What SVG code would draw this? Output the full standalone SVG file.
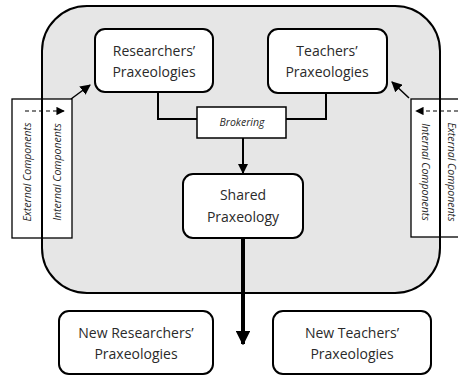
<svg xmlns="http://www.w3.org/2000/svg" width="458" height="376" viewBox="0 0 458 376">
<style>
.node{fill:#fff;stroke:#000;stroke-width:2}
.panel{fill:#fff;stroke:#000;stroke-width:1.3}
.t{font-family:"Open Sans","Noto Sans",sans-serif;font-size:14px;fill:#2a2a2a;text-anchor:middle}
.s{font-family:"Open Sans","Noto Sans",sans-serif;font-size:10.5px;font-style:italic;fill:#2a2a2a;text-anchor:middle}
.ln{fill:none;stroke:#000;stroke-width:2}
</style>
<defs>
<marker id="ah" viewBox="0 0 10 10" refX="9" refY="5" markerWidth="5" markerHeight="5" orient="auto" markerUnits="strokeWidth">
<path d="M0,0L10,5L0,10z" fill="#000"/>
</marker>
<marker id="ahs" viewBox="0 0 10 10" refX="9" refY="5" markerWidth="7" markerHeight="7" orient="auto" markerUnits="strokeWidth">
<path d="M0,0L10,5L0,10z" fill="#000"/>
</marker>
<marker id="ahb" viewBox="0 0 10 10" refX="9" refY="5" markerWidth="3.6" markerHeight="3.6" orient="auto" markerUnits="strokeWidth">
<path d="M0,0L10,5L0,10z" fill="#000"/>
</marker>
</defs>
<g id="container-bg"><rect x="42" y="6" width="398" height="287" rx="45" ry="45" fill="#e6e6e6"/></g>
<g id="left-panel">
<rect class="panel" x="12" y="99" width="30" height="139"/>
<rect class="panel" x="42" y="99" width="30" height="139"/>
<text class="s" transform="translate(31,172) rotate(-90)">External Components</text>
<text class="s" transform="translate(61,172) rotate(-90)">Internal Components</text>
</g>
<g id="right-panel">
<rect class="panel" x="411" y="99" width="29" height="138"/>
<rect class="panel" x="440" y="99" width="30" height="138"/>
<text class="s" transform="translate(422,172) rotate(90)">Internal Components</text>
<text class="s" transform="translate(447.5,172) rotate(90)">External Components</text>
</g>
<g id="container-border"><rect x="42" y="6" width="398" height="287" rx="45" ry="45" fill="none" stroke="#000" stroke-width="2"/></g>
<g id="connectors">
<polyline class="ln" points="158,92 158,119 197,119"/>
<polyline class="ln" points="326,93 326,119 286,119"/>
<line class="ln" x1="243" y1="138" x2="243" y2="173" marker-end="url(#ah)"/>
<line x1="243" y1="238" x2="243" y2="344" stroke="#000" stroke-width="4" marker-end="url(#ahb)"/>
<line x1="25" y1="111" x2="64" y2="111" stroke="#000" stroke-width="1.2" stroke-dasharray="4,3" marker-end="url(#ahs)"/>
<line x1="458" y1="111" x2="416" y2="111" stroke="#000" stroke-width="1.2" stroke-dasharray="4,3" marker-end="url(#ahs)"/>
<line x1="71" y1="99" x2="90" y2="85" stroke="#000" stroke-width="1.5" marker-end="url(#ahs)"/>
<line x1="409" y1="98" x2="392" y2="82" stroke="#000" stroke-width="1.5" marker-end="url(#ahs)"/>
</g>
<g id="researchers">
<rect class="node" x="95" y="29" width="118" height="63" rx="10"/>
<text class="t" x="154" y="56">Researchers’</text>
<text class="t" x="154" y="77">Praxeologies</text>
</g>
<g id="teachers">
<rect class="node" x="268" y="29" width="119" height="64" rx="10"/>
<text class="t" x="327" y="56">Teachers’</text>
<text class="t" x="327" y="77">Praxeologies</text>
</g>
<g id="brokering">
<rect x="197" y="107" width="89" height="31" fill="#fff" stroke="#000" stroke-width="1.5"/>
<text class="s" x="242" y="126">Brokering</text>
</g>
<g id="shared">
<rect class="node" x="183" y="174" width="120" height="64" rx="10"/>
<text class="t" x="243" y="200">Shared</text>
<text class="t" x="243" y="222">Praxeology</text>
</g>
<g id="new-researchers">
<rect class="node" x="59" y="311" width="154" height="63" rx="10"/>
<text class="t" x="136" y="338">New Researchers’</text>
<text class="t" x="136" y="359">Praxeologies</text>
</g>
<g id="new-teachers">
<rect class="node" x="273" y="311" width="158" height="63" rx="10"/>
<text class="t" x="352" y="338">New Teachers’</text>
<text class="t" x="352" y="359">Praxeologies</text>
</g>
</svg>
